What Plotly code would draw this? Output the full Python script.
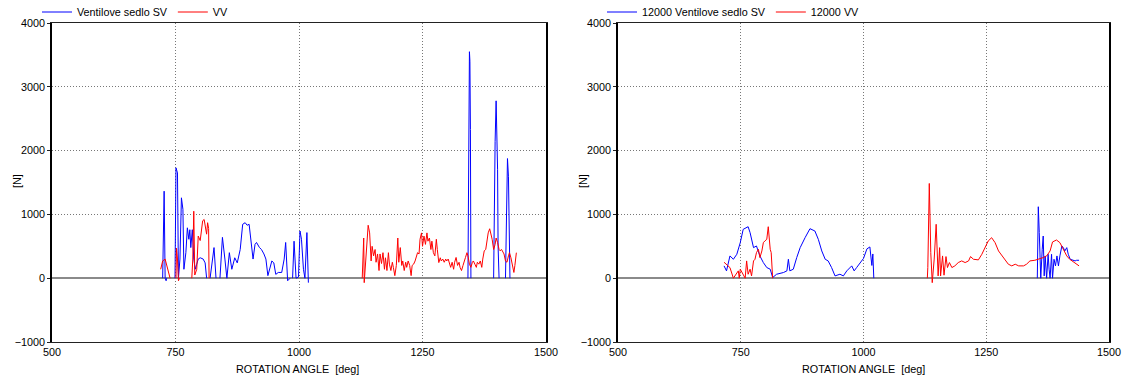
import plotly.graph_objects as go
from plotly.subplots import make_subplots

# left chart: "Ventilove sedlo SV" (blue) and "VV" (red)
left_sv_x = [724, 727, 729, 731, 732, None,
             749, 751, 754, 756, 759, 762, 765, 767, 771, 774, 777, 779, 781, 784, 787, 790, 793, 796, 800, 806, 810, 813, None,
             820, 828, 832, None,
             840, 845, 850, 854, 859, 864, 870, 875, 881, 886, 891, 895, 899, 904, 907, 911, 914, 920, 924, 929, 933, 937, 941, 945,
             949, 953, 958, 965, 970, 973, 977, 982, None,
             987, 990, 994, 999, 1002, 1005, 1009, 1012, 1016, 1019, None,
             1342, 1343, 1345, 1346, 1347, 1348, None,
             1394, 1395, 1397, 1399, 1400, 1402, 1403, 1405, None,
             1418, 1420, 1422, 1424, 1425, 1427]
left_sv_y = [0, 1364, 0, -40, 0, None,
             0, 1730, 1650, 0, 300, 1260, 1080, 140, 400, 790, 610, 760, 480, 760, 300, 140, 220, 300, 320, 300, 240, 0, None,
             0, 480, 0, None,
             0, 640, 300, 0, 400, 140, 320, 240, 450, 845, 870, 830, 845, 450, 300, 530, 560, 480, 450, 380, 300, 40, 140, 270,
             240, 60, 90, 90, 300, 560, -40, 0, None,
             0, 580, 0, 20, 740, 610, 140, 0, 715, -70, None,
             0, 1050, 3550, 3400, 2330, 0, None,
             0, 843, 2145, 2780, 2480, 1700, 500, 0, None,
             0, 1500, 1875, 1590, 870, 0]

left_vv_x = [720, 724, 729, 732, 735, 739, None,
             751, 752, 754, 756, 758, None,
             783, 785, 787, 789, 793, 796, 800, 802, 805, 808, 810, 813, 815, 817, 818, None,
             1128, 1129, 1131, 1132, 1134, 1137, 1140, 1143, 1146, 1148, 1151, 1154, 1156, 1159, 1162, 1164, 1167, 1170, 1173, 1175,
             1178, 1181, 1183, 1186, 1189, 1191, 1194, 1197, 1200, 1202, 1205, 1208, 1210, 1213, 1216, 1218, 1221, 1224, 1227, 1229,
             1232, 1235, 1237, 1240, 1243, 1245, 1248, 1250, 1253, 1256, 1259, 1261, 1264, 1267, 1269, 1272, 1275, 1278, 1280, 1283,
             1286, 1288, 1291, 1294, 1297, 1299, 1302, 1305, 1307, 1310, 1313, 1315, 1318, 1321, 1324, 1326, 1329, 1332, 1334, 1337,
             1340, 1342, 1345, 1348, 1351, 1353, 1356, 1359, 1361, 1364, 1367, 1370, 1372, 1375, 1378, 1380, 1383, 1386, 1388, 1391,
             1394, 1397, 1399, 1402, 1405, 1407, 1410, 1413, 1415, 1418, 1421, 1424, 1426, 1429, 1432, 1435, 1437, 1440]
left_vv_y = [140, 270, 300, 200, 90, 0, None,
             0, 470, 300, -40, 0, None,
             0, 300, 1050, 50, 140, 660, 590, 750, 900, 920, 800, 690, 870, 780, 0, None,
             0, 250, 630, -70, 140, 450, 830, 710, 270, 500, 350, 450, 250, 380, 120, 380, 230, 400, 140, 320,
             120, 400, 220, 120, 250, 170, 40, 200, 630, 250, 480, 200, 270, 120, 250, 170, 270, 200, 40, 200,
             220, 270, 320, 400, 380, 610, 710, 500, 660, 530, 710, 580, 630, 450, 580, 400, 350, 610, 450, 245,
             320, 270, 300, 250, 300, 270, 300, 220, 170, 250, 140, 250, 325, 200, 250, 170, 120, 200, 270, 325,
             400, 350, 220, 170, 250, 270, 220, 170, 250, 220, 270, 170, 300, 430, 450, 560, 710, 775, 710, 610,
             450, 530, 630, 560, 450, 430, 450, 400, 380, 270, 250, 350, 400, 320, 200, 90, 200, 400]

# right chart: "12000 Ventilove sedlo SV" (blue) and "12000 VV" (red)
right_sv_x = [716, 721, 728, 735, 742, 749, 755, 765, 769, 776, 782, 789, 796, 803, 810, 815, 823, 837, 844, 847, 850, 857,
              864, 871, 881, 891, 901, 908, 915, 922, 928, 935, 942, 952, 959, 966, 976, 981, 986, 993, 1000, 1007, 1013, 1017,
              1019, 1021, None,
              1354, 1356, 1358, 1361, 1364, 1366, 1368, 1370, 1373, 1376, 1378, 1380, 1383, 1385, 1388, 1391, 1394, 1397, 1400,
              1404, 1407, 1410, 1414, 1417, 1421, 1428, 1431, 1434, 1439]
right_sv_y = [193, 115, 349, 297, 375, 557, 766, 807, 714, 479, 505, 349, 245, 167, 141, 10, 62, 89, 115, 297, 115, 141,
              323, 479, 635, 776, 740, 609, 427, 297, 271, 167, 36, 62, 36, 115, 193, 115, 167, 245, 310, 460, 490, 200,
              380, 0, None,
              0, 1120, 714, 0, 453, 661, 36, 349, 0, 375, 141, 0, 375, 0, 297, 193, 349, 193, 349,
              505, 479, 427, 479, 375, 297, 271, 271, 281, 281]

right_vv_x = [716, 721, 728, 735, 745, 747, 749, 759, 762, 765, 769, 772, 776, 779, 782, 786, 789, 793, 796, 799, 803, 806,
              808, 810, 812, 813, 815, None,
              1130, 1131, 1134, 1137, 1140, 1144, 1148, 1152, 1155, 1157, 1161, 1164, 1168, 1171, 1175, 1180, 1186, 1193, 1200,
              1207, 1214, 1218, 1224, 1234, 1241, 1248, 1254, 1261, 1268, 1275, 1282, 1288, 1295, 1302, 1309, 1316, 1326, 1332,
              1339, 1349, 1356, 1366, 1373, 1380, 1385, 1393, 1400, 1407, 1414, 1420, 1427, 1434, 1439]
right_vv_y = [250, 219, 167, 0, 115, 0, 141, 0, 271, 62, 141, 36, 271, 297, 401, 453, 323, 427, 557, 583, 609, 807,
              583, 453, 401, 141, 0, None,
              0, 167, 1485, 400, -70, 300, 845, 36, 479, 36, 349, 47, 339, 167, 245, 167, 193, 245, 271,
              245, 271, 339, 297, 287, 375, 479, 583, 635, 557, 427, 349, 297, 219, 193, 219, 193, 193, 219,
              271, 281, 297, 323, 349, 427, 568, 599, 557, 453, 349, 297, 255, 219, 193]

x_ticks = [500, 750, 1000, 1250, 1500]
y_ticks = [-1000, 0, 1000, 2000, 3000, 4000]

BLUE = "#0000ff"
RED = "#ff0000"
FONT = "Liberation Sans, Arial, sans-serif"

# plot area in pixels: left 52, right 1109, top 23, bottom 342
W, H = 1128, 378
L, R, T, B = 52, 1109, 23, 342
PW, PH = R - L, B - T


def fx(px):
    return (px - L) / PW


def fy(py):
    return (B - py) / PH


fig = make_subplots(rows=1, cols=2)

fig.add_trace(go.Scatter(x=left_sv_x, y=left_sv_y, mode="lines", name="Ventilove sedlo SV",
                         line=dict(color=BLUE, width=1), legend="legend"), row=1, col=1)
fig.add_trace(go.Scatter(x=left_vv_x, y=left_vv_y, mode="lines", name="VV",
                         line=dict(color=RED, width=1), legend="legend"), row=1, col=1)
fig.add_trace(go.Scatter(x=right_sv_x, y=right_sv_y, mode="lines", name="12000 Ventilove sedlo SV",
                         line=dict(color=BLUE, width=1), legend="legend2"), row=1, col=2)
fig.add_trace(go.Scatter(x=right_vv_x, y=right_vv_y, mode="lines", name="12000 VV",
                         line=dict(color=RED, width=1), legend="legend2"), row=1, col=2)

xa = dict(range=[500, 1500], tickvals=x_ticks, showgrid=True, gridcolor="#777", griddash="1px,2px", gridwidth=1,
          showline=True, linecolor="#222", linewidth=1, mirror=True, ticks="",
          zeroline=False, automargin=False, tickfont=dict(size=10.8, color="#000"))
ya = dict(range=[-1000, 4000], tickvals=y_ticks, showgrid=True, gridcolor="#777", griddash="1px,2px", gridwidth=1,
          showline=True, linecolor="#000", linewidth=1.5, mirror=True, ticks="outside", ticklen=3, tickcolor="#222",
          zeroline=True, zerolinecolor="#8a8a8a", zerolinewidth=1.5, automargin=False,
          tickfont=dict(size=10.8, color="#000"))

fig.update_layout(
    width=W, height=H,
    margin=dict(l=L, r=W - R, t=T, b=H - B, autoexpand=False),
    paper_bgcolor="white", plot_bgcolor="white",
    font=dict(family=FONT, size=10.8, color="#000"),
    xaxis=dict(xa, domain=[fx(52), fx(546)]),
    xaxis2=dict(xa, domain=[fx(618), fx(1109)]),
    yaxis=dict(ya, domain=[0, 1]),
    yaxis2=dict(ya, domain=[0, 1]),
    legend=dict(orientation="h", x=fx(37), y=fy(12), xanchor="left", yanchor="middle",
                font=dict(size=10.8), bgcolor="rgba(0,0,0,0)", itemwidth=30),
    legend2=dict(orientation="h", x=fx(602), y=fy(12), xanchor="left", yanchor="middle",
                 font=dict(size=10.8), bgcolor="rgba(0,0,0,0)", itemwidth=30),
)

for xc in [17, 583]:
    fig.add_annotation(text="[N]", x=fx(xc), y=fy(181), xref="paper", yref="paper",
                       xanchor="center", yanchor="middle",
                       showarrow=False, textangle=-90, font=dict(size=10.8))
for xc in [297, 863]:
    fig.add_annotation(text="ROTATION ANGLE &nbsp;[deg]", x=fx(xc), y=fy(369), xref="paper", yref="paper",
                       xanchor="center", yanchor="middle",
                       showarrow=False, font=dict(size=10.8))

# page body has a default margin; remove it so the figure sits at the window's corner
fig.write_html("out.html", config={"displayModeBar": False},
               post_script="document.body.style.margin='0';")
